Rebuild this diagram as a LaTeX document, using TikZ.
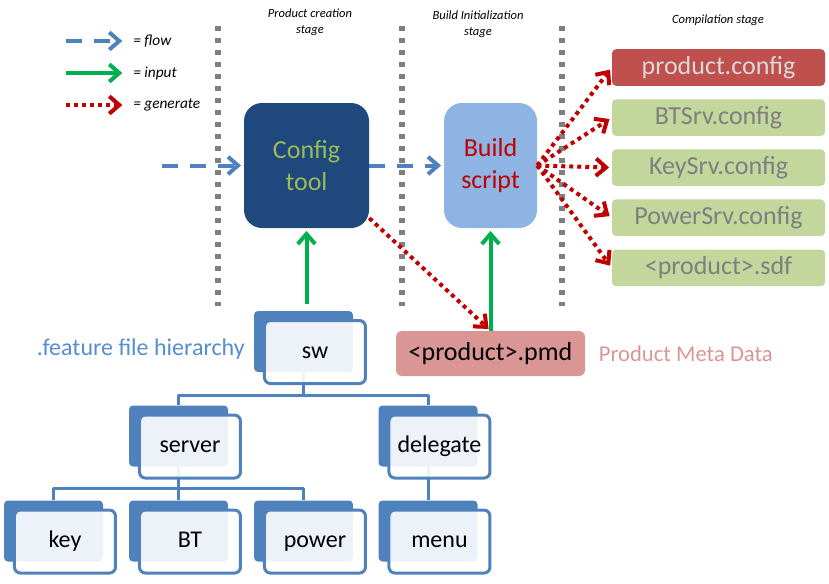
\documentclass[tikz,border=0pt]{standalone}
\usepackage{fontspec}
\setmainfont{Carlito}
\usetikzlibrary{%
  arrows.meta,% Straight Barb
  chains,%
  positioning% wg. " of "
}
\definecolor{flowblue}{HTML}{4F81BD}
\definecolor{inputgreen}{HTML}{00B050}
\definecolor{genred}{HTML}{C00000}
\definecolor{divgray}{HTML}{7F7F7F}
\definecolor{configblue}{HTML}{1F497D}
\definecolor{configgreen}{HTML}{9BBB59}
\definecolor{buildblue}{HTML}{8EB4E3}
\definecolor{prodred}{HTML}{C0504D}
\definecolor{prodtext}{HTML}{D9D9D9}
\definecolor{filegreen}{HTML}{C3D69B}
\definecolor{filetext}{HTML}{7F7F7F}
\definecolor{pmdred}{HTML}{D99694}
\definecolor{treeblue}{HTML}{4F81BD}
\definecolor{hierblue}{HTML}{558ED5}

\begin{document}
\begin{tikzpicture}[
    x=0.75pt,y=-0.75pt,
    line join=round,
    barb/.style={-{Straight Barb[length=7.5pt,width=13pt]}},
    flow/.style={draw=flowblue,line width=3pt,dash pattern=on 12pt off 9pt,
        barb,shorten >=2pt},
    input/.style={draw=inputgreen,line width=3pt,barb,shorten >=2pt},
    generate/.style={draw=genred,line width=3pt,dash pattern=on 3pt off 3pt,
        barb,shorten >=2pt},
    divider/.style={draw=divgray,line width=4pt,dash pattern=on 4pt off 5pt},
    stagelabel/.style={font=\itshape\fontsize{9.4}{12}\selectfont,align=center,inner sep=0pt},
    legendlabel/.style={font=\itshape\fontsize{11.5}{14}\selectfont,anchor=west,inner sep=0pt},
    tool/.style={rectangle,rounded corners=13.5pt,minimum height=93.75pt,align=center,
        font=\fontsize{19.5}{24}\selectfont,inner sep=0pt},
    cfgfile/.style={rectangle,rounded corners=3pt,fill=filegreen,text=filetext,
        minimum width=159.75pt,minimum height=27.4pt,text height=14pt,text depth=4pt,
        font=\fontsize{19.5}{24}\selectfont,inner sep=0pt},
    pmdbox/.style={rectangle,rounded corners=4.5pt,fill=pmdred,
        minimum width=141.75pt,minimum height=33.75pt,
        font=\fontsize{19.5}{24}\selectfont,inner sep=0pt},
    backbox/.style={rectangle,rounded corners=3pt,fill=treeblue,
        minimum width=74.25pt,minimum height=45.75pt,inner sep=0pt},
    frontbox/.style={rectangle,rounded corners=4.5pt,draw=treeblue,line width=2.25pt,
        fill=white,fill opacity=0.9,text opacity=1,
        minimum width=75.75pt,minimum height=47.25pt,text height=12.5pt,text depth=3.5pt,
        font=\fontsize{18}{21}\selectfont,inner sep=0pt},
    branch/.style={draw=treeblue,line width=2.25pt},
    node distance=9.75pt
  ]
    \useasboundingbox (0,0) rectangle (829,583);

    % stage borders
    \foreach \x in {218,402,562}
        \draw[divider] (\x,26) -- (\x,306);

    \node[stagelabel] (stage-prod) at (310,22) {Product creation\\stage};
    \node[stagelabel] (stage-init) at (478,24) {Build Initialization\\stage};
    \node[stagelabel] (stage-comp) at (718,20) {Compilation stage};

    % legend
    \foreach \s/\t/\y in {flow/= flow/41,input/= input/73,generate/= generate/105} {
        \coordinate (\s-a) at (66,\y);
        \coordinate (\s-b) at (125,\y);
        \draw[\s] (\s-a) -- (\s-b);
        \node[legendlabel] (\s-l) at (133,\y) {\t};
    }

    % tools
    \node[tool,fill=configblue,text=configgreen,minimum width=93.75pt]
        (config) at (306.5,165.5) {Config\\tool};
    \node[tool,fill=buildblue,text=genred,minimum width=69.75pt]
        (build) at (490.5,165.5) {Build\\script};

    \begin{scope}[start chain=files going below,
            every node/.style={on chain}]
        \node[cfgfile,fill=prodred,text=prodtext] (prodcfg) at (718.5,67.5) {product.config};
        \node[cfgfile] (btcfg)  {BTSrv.config};
        \node[cfgfile] (keycfg) {KeySrv.config};
        \node[cfgfile] (powcfg) {PowerSrv.config};
        \node[cfgfile] (sdf)    {<product>.sdf};
    \end{scope}

    \node[pmdbox] (pmd) at (490.5,353.5) {<product>.pmd};
    \node[right=10pt of pmd,inner sep=0pt,text=pmdred,
        font=\fontsize{17}{20}\selectfont] (pmd-note) {Product Meta Data};

    % feature tree
    \foreach \n/\x/\y in {sw/303.5/341.5,server/178.5/436,delegate/428/436,
            key/53.5/531,BT/178.5/531,power/303.5/531,menu/428/531}
        \node[backbox] (\n-b) at (\x,\y) {};

    \draw[branch] (sw-b.south) -- ++(0,23) coordinate (sw-j) -| (server-b.north);
    \draw[branch] (sw-j) -| (delegate-b.north);
    \draw[branch] (server-b.south) -- ++(0,22) coordinate (server-j) -| (key-b.north);
    \draw[branch] (server-j) -| (power-b.north);
    \draw[branch] (server-j) -- (BT-b.north);
    \draw[branch] (delegate-b.south) -- (menu-b.north);

    \foreach \n in {sw,server,delegate,key,BT,power,menu}
        \node[frontbox,xshift=8.6pt,yshift=-7.9pt] (\n) at (\n-b) {\n};

    \node[anchor=east,inner sep=0pt,text=hierblue,font=\fontsize{18}{21}\selectfont]
        (hier) at (245,349) {.feature file hierarchy};

    % connections
    \coordinate (start) at (162,165.5);
    \coordinate (sw-top) at ([yshift=5pt]sw-b.north);
    \draw[flow] (start) -- (config);
    \draw[flow] (config) -- (build);
    \draw[input] (sw-top -| config) -- (config);
    \draw[input] (pmd) -- (build);
    \draw[generate] (config.-40) -- (pmd.north);
    \foreach \f in {prodcfg,btcfg,keycfg,powcfg,sdf}
        \draw[generate] (build.east) -- (\f.west);
\end{tikzpicture}
\end{document}
